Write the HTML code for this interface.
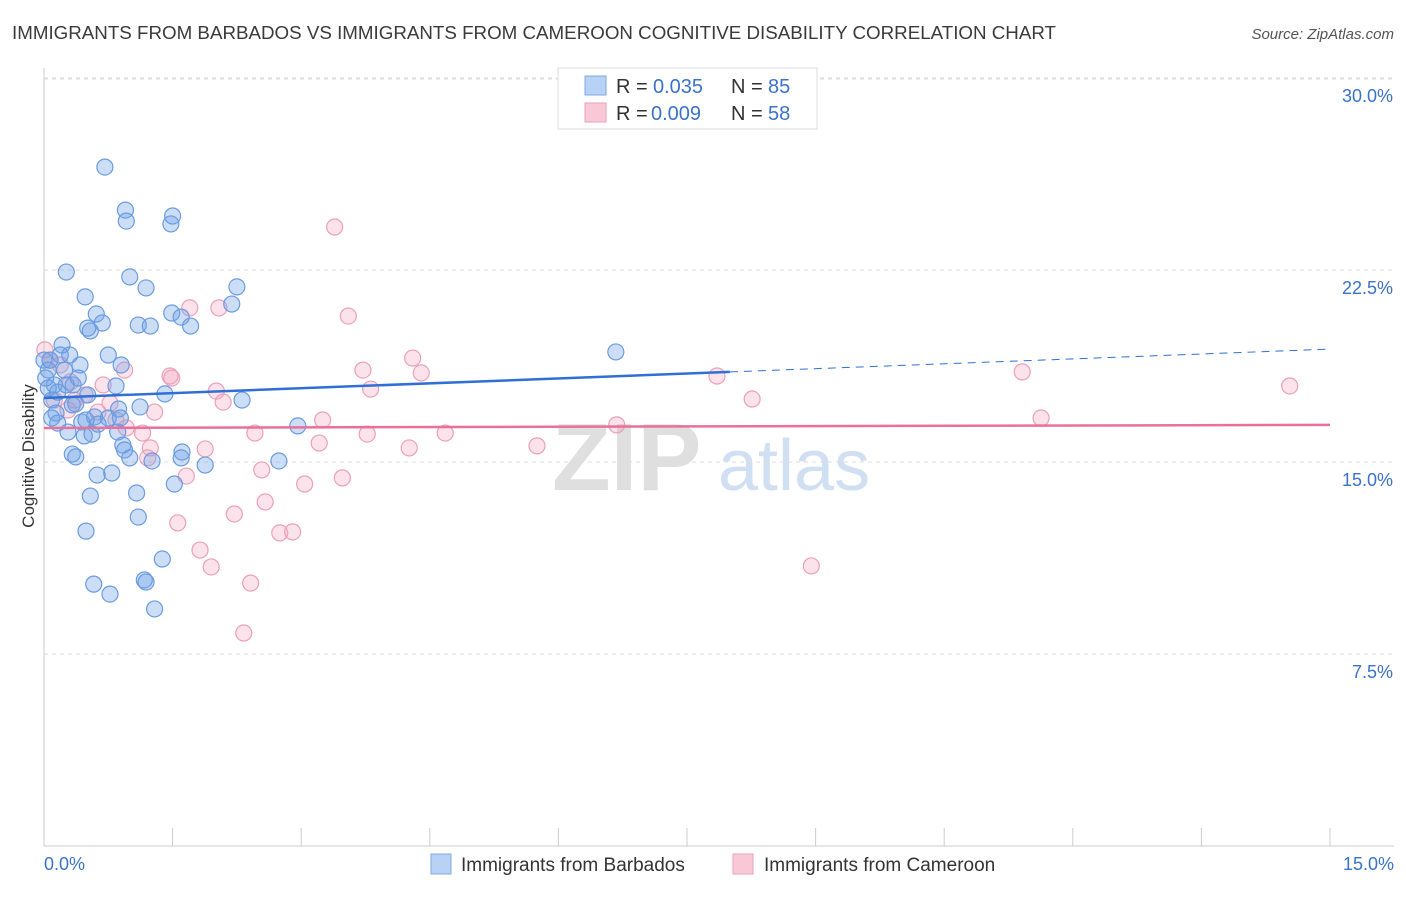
<!DOCTYPE html>
<html><head><meta charset="utf-8">
<style>
body{margin:0;background:#fff;font-family:"Liberation Sans",sans-serif;}
svg text{font-family:"Liberation Sans",sans-serif;}
</style></head>
<body>
<svg id="chart" width="1406" height="892" xmlns="http://www.w3.org/2000/svg">
<text x="12" y="39" font-size="18" fill="#3a3a3a" textLength="1044" lengthAdjust="spacingAndGlyphs">IMMIGRANTS FROM BARBADOS VS IMMIGRANTS FROM CAMEROON COGNITIVE DISABILITY CORRELATION CHART</text>
<text x="1394" y="39" font-size="15" fill="#555" text-anchor="end" font-style="italic">Source: ZipAtlas.com</text>
<text x="552" y="490" font-size="96" fill="#d8d8d8" font-family="Liberation Serif" font-weight="bold" opacity="0.8">ZIP</text>
<text x="718" y="490" font-size="72" fill="#c6d8f0" opacity="0.8">atlas</text>
<text transform="translate(34,456) rotate(-90)" font-size="17" fill="#333" text-anchor="middle">Cognitive Disability</text>
<g id="grid"></g><g id="axes"></g><g id="pts"></g><g id="lines"></g>
<g>
<rect x="558" y="68" width="259" height="61" fill="#fff" stroke="#ddd"/>
<rect x="585" y="76" width="21" height="19" fill="#b8d2f5" stroke="#7fa8e0"/>
<rect x="585" y="103" width="21" height="19" fill="#f8c8d6" stroke="#eba0b8"/>
<text x="616" y="93" font-size="20" fill="#333">R =</text>
<text x="653" y="93" font-size="20" fill="#3b72c9">0.035</text>
<text x="731" y="93" font-size="20" fill="#333">N =</text>
<text x="768" y="93" font-size="20" fill="#3b72c9">85</text>
<text x="616" y="120" font-size="20" fill="#333">R =</text>
<text x="651" y="120" font-size="20" fill="#3b72c9">0.009</text>
<text x="731" y="120" font-size="20" fill="#333">N =</text>
<text x="768" y="120" font-size="20" fill="#3b72c9">58</text>
</g>
<g>
<rect x="431" y="854" width="20" height="20" fill="#b8d2f5" stroke="#7fa8e0"/>
<text x="461" y="871" font-size="19" fill="#333">Immigrants from Barbados</text>
<rect x="733" y="854" width="20" height="20" fill="#f8c8d6" stroke="#eba0b8"/>
<text x="764" y="871" font-size="19" fill="#333">Immigrants from Cameroon</text>
</g>
</svg>
<script>
const xTicks=[0,1.5,3,4.5,6,7.5,9,10.5,12,13.5,15];
const yTicks=[7.5,15,22.5,30];
const yTickLabels=["7.5%","15.0%","22.5%","30.0%"];
const blueX=[0.71,0.95,0.96,1.50,1.48,0.26,1.00,1.19,2.25,0.48,2.19,0.61,1.49,1.60,0.68,0.51,0.54,1.10,1.24,1.71,0.21,0.19,0.30,0.75,0.90,0.42,6.67,0.07,0.05,0.24,0.34,0.84,0.12,0.16,0.51,1.41,2.31,0.09,0.37,0.33,1.12,0.87,0.14,0.59,0.75,0.44,0.63,0.16,0.28,0.47,0.56,0.86,2.96,0.92,0.94,1.61,0.33,0.37,1.00,1.26,1.60,1.88,2.74,0.62,0.79,1.52,1.08,0.54,1.10,0.49,1.38,0.58,1.17,1.19,0.77,1.29,0.00,0.02,0.05,0.09,0.26,0.40,0.49,0.89];
const blueY=[26.52,24.84,24.41,24.61,24.30,22.42,22.23,21.80,21.84,21.45,21.17,20.78,20.82,20.66,20.43,20.23,20.12,20.35,20.31,20.31,19.57,19.18,19.18,19.18,18.79,18.79,19.30,18.98,18.59,18.59,18.01,17.97,18.01,17.73,17.62,17.66,17.42,17.42,17.27,17.23,17.15,17.07,16.91,16.76,16.72,16.56,16.48,16.52,16.17,16.02,16.09,16.17,16.41,15.66,15.47,15.39,15.31,15.20,15.16,15.04,15.16,14.88,15.04,14.49,14.57,14.14,13.79,13.67,12.85,12.30,11.21,10.23,10.39,10.31,9.84,9.26,18.98,18.28,17.89,16.72,18.01,18.28,16.64,16.72];
const pinkX=[3.39,1.70,2.04,3.55,0.01,0.07,0.19,0.31,0.69,0.94,1.47,1.49,4.30,3.72,4.40,3.81,2.01,2.09,8.26,11.41,14.53,7.85,0.12,0.48,0.28,0.77,1.29,0.84,0.96,1.15,2.46,3.25,3.77,4.68,5.75,4.26,6.68,11.63,3.21,1.88,1.24,1.21,2.54,1.66,3.04,3.48,2.58,2.22,1.56,2.75,2.90,1.82,1.95,2.41,8.95,2.33,0.36,0.63];
const pinkY=[24.18,21.02,21.02,20.70,19.38,18.98,18.79,18.13,18.01,18.59,18.36,18.28,19.06,18.59,18.48,17.85,17.77,17.34,17.46,18.52,17.97,18.36,17.42,17.62,17.03,17.30,16.95,16.64,16.33,16.13,16.13,16.64,16.09,16.13,15.63,15.55,16.45,16.72,15.74,15.51,15.55,15.16,14.69,14.45,14.14,14.38,13.44,12.97,12.62,12.23,12.27,11.56,10.90,10.27,10.94,8.32,17.42,16.95];
const blueTrend=[17.5,19.41];
const pinkTrend=[16.33,16.45];
const blueSolidEnd=8.0;

const NS="http://www.w3.org/2000/svg";
const xs=v=>44+v*(1286/15);
const ys=v=>846-v*25.6;
function mk(t,a,p){const e=document.createElementNS(NS,t);for(const k in a)e.setAttribute(k,a[k]);p.appendChild(e);return e;}
const grid=document.getElementById('grid'),axes=document.getElementById('axes'),pts=document.getElementById('pts'),lines=document.getElementById('lines');
yTicks.forEach((v,i)=>{
  const l=mk('line',{x1:44,x2:1394,y1:ys(v),y2:ys(v),stroke:'#ddd','stroke-dasharray':'4,4'},grid);
  
  
  const t=mk('text',{x:1393,y:ys(v)+24,'font-size':18,fill:'#3b72c9','text-anchor':'end'},axes);
  t.textContent=yTickLabels[i];
  
  
});
const topGrid=mk('line',{x1:44,x2:1394,y1:79,y2:79,stroke:'#ddd','stroke-dasharray':'4,4'},grid);


const ya=mk('line',{x1:44,x2:44,y1:68,y2:846,stroke:'#ccc'},axes);


const xa=mk('line',{x1:44,x2:1394,y1:846,y2:846,stroke:'#ccc'},axes);


xTicks.forEach(v=>{
  const l=mk('line',{x1:xs(v),x2:xs(v),y1:828,y2:846,stroke:'#ccc'},axes);
  
  
});
const xl0=mk('text',{x:44,y:870,'font-size':18,fill:'#3b72c9'},axes);xl0.textContent='0.0%';


const xl1=mk('text',{x:1394,y:870,'font-size':18,fill:'#3b72c9','text-anchor':'end'},axes);xl1.textContent='15.0%';


pinkX.forEach((v,i)=>{
  const c=mk('circle',{cx:xs(v),cy:ys(pinkY[i]),r:8,fill:'rgba(242,160,190,0.3)',stroke:'#eba0b8','stroke-width':1.2},pts);
  
  
});
blueX.forEach((v,i)=>{
  const c=mk('circle',{cx:xs(v),cy:ys(blueY[i]),r:8,fill:'rgba(110,160,230,0.35)',stroke:'#6b9be0','stroke-width':1.2},pts);
  
  
});
const bAt=x=>blueTrend[0]+(blueTrend[1]-blueTrend[0])*x/15;
const b1=mk('line',{x1:xs(0),y1:ys(bAt(0)),x2:xs(blueSolidEnd),y2:ys(bAt(blueSolidEnd)),stroke:'#2f6fd6','stroke-width':2.5},lines);


const b2=mk('line',{x1:xs(blueSolidEnd),y1:ys(bAt(blueSolidEnd)),x2:xs(15),y2:ys(bAt(15)),stroke:'#2f6fd6','stroke-width':1,'stroke-dasharray':'8,6'},lines);


const p1=mk('line',{x1:xs(0),y1:ys(pinkTrend[0]),x2:xs(15),y2:ys(pinkTrend[1]),stroke:'#e8709a','stroke-width':2.5},lines);


</script>
</body></html>
